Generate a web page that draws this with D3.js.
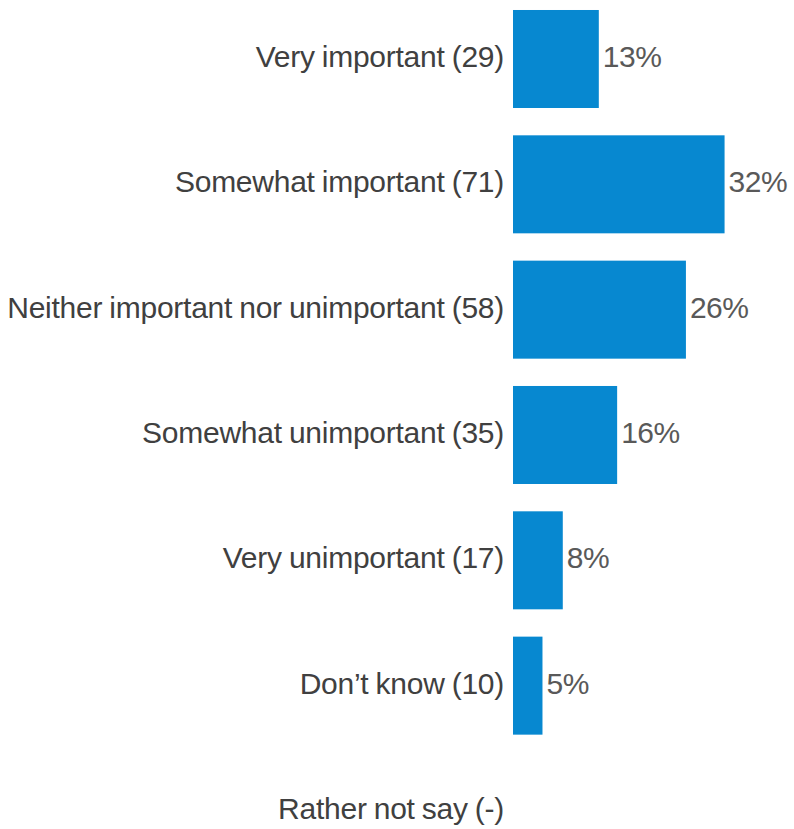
<!DOCTYPE html>
<html>
<head>
<meta charset="utf-8">
<script src="https://cdn.jsdelivr.net/npm/d3@7"></script>
<style>
  html, body { margin: 0; padding: 0; background: #fff; }
  svg { display: block; }
</style>
</head>
<body>
<svg id="chart" width="794" height="829"></svg>
<script>
const categories = [
  "Very important (29)",
  "Somewhat important (71)",
  "Neither important nor unimportant (58)",
  "Somewhat unimportant (35)",
  "Very unimportant (17)",
  "Don\u2019t know (10)",
  "Rather not say (-)"
];
const values = [13.1, 32.3, 26.4, 15.9, 7.6, 4.5, null];
const valueLabels = ["13%", "32%", "26%", "16%", "8%", "5%", ""];

const svg = d3.select("#chart");
const x0 = 513;
const x = d3.scaleLinear().domain([0, 100]).range([x0, x0 + 655]);
const y = d3.scaleBand()
  .domain(categories)
  .range([-3.67, -3.67 + 7 * 125.33])
  .paddingInner(0.218)
  .paddingOuter(0.109);

const font = "'Liberation Sans', Arial, sans-serif";
const rows = categories.map((c, i) => ({ c, v: values[i], l: valueLabels[i] }));

svg.selectAll("rect.bar")
  .data(rows.filter(d => d.v != null))
  .join("rect")
  .attr("class", "bar")
  .attr("x", x(0))
  .attr("y", d => y(d.c))
  .attr("width", d => x(d.v) - x(0))
  .attr("height", y.bandwidth())
  .attr("fill", "#0788D0");

svg.selectAll("text.cat")
  .data(rows)
  .join("text")
  .attr("class", "cat")
  .attr("x", x(0) - 9)
  .attr("y", d => y(d.c) + y.bandwidth() / 2 + 8)
  .attr("text-anchor", "end")
  .style("font-family", font)
  .style("font-size", "30px")
  .style("letter-spacing", "-0.25px")
  .style("word-spacing", "-1px")
  .attr("fill", "#404040")
  .text(d => d.c);

svg.selectAll("text.val")
  .data(rows.filter(d => d.v != null))
  .join("text")
  .attr("class", "val")
  .attr("x", d => x(d.v) + 4)
  .attr("y", d => y(d.c) + y.bandwidth() / 2 + 8)
  .attr("text-anchor", "start")
  .style("font-family", font)
  .style("font-size", "30px")
  .style("letter-spacing", "-0.5px")
  .attr("fill", "#595959")
  .text(d => d.l);
</script>
</body>
</html>
